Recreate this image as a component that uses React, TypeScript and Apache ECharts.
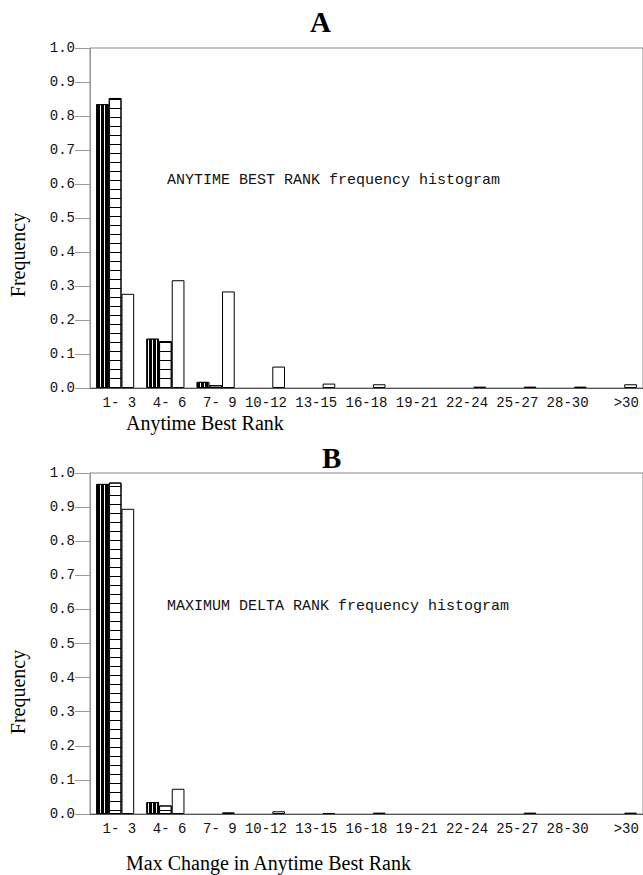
import React, { useEffect, useRef } from "react";
import * as echarts from "echarts";

const categories = [" 1- 3", " 4- 6", " 7- 9", "10-12", "13-15", "16-18", "19-21", "22-24", "25-27", "28-30", "  >30"];
const yTicks = [0, 0.1, 0.2, 0.3, 0.4, 0.5, 0.6, 0.7, 0.8, 0.9, 1.0];

// Panel A: Anytime best rank
const aBlack = [0.835, 0.145, 0.018, 0, 0, 0, 0, 0, 0, 0, 0];
const aLined = [0.853, 0.138, 0.008, 0, 0, 0, 0, 0, 0, 0, 0];
const aWhite = [0.277, 0.317, 0.284, 0.063, 0.013, 0.011, 0, 0.004, 0.004, 0.004, 0.011];

// Panel B: Max change in anytime best rank
const bBlack = [0.968, 0.035, 0, 0, 0, 0, 0, 0, 0, 0, 0];
const bLined = [0.972, 0.025, 0, 0, 0, 0, 0, 0, 0, 0, 0];
const bWhite = [0.895, 0.074, 0.005, 0.008, 0.003, 0.004, 0, 0, 0.004, 0, 0.004];

const MONO = "'Liberation Mono', 'Courier New', monospace";
const SERIF = "'Liberation Serif', 'Times New Roman', serif";

export default function App() {
  const ref = useRef<HTMLDivElement>(null);
  useEffect(() => {
    if (!ref.current) return;
    const chart = echarts.init(ref.current, undefined, { renderer: "svg" });
    const grids = [
      { left: 90, top: 48, width: 556, height: 340 },
      { left: 90, top: 473, width: 556, height: 341 },
    ];
    const xAxis = grids.map((_, i) => ({
      type: "category",
      gridIndex: i,
      data: categories,
      axisLine: { lineStyle: { color: "#555", width: 1 } },
      axisTick: { show: false },
      axisLabel: { interval: 0, margin: 8, fontFamily: MONO, fontSize: 14, color: "#111" },
    }));
    const yAxis = grids.map((_, i) => ({
      type: "value",
      gridIndex: i,
      min: yTicks[0],
      max: yTicks[yTicks.length - 1],
      interval: 0.1,
      splitLine: { show: false },
      axisLine: { show: true, lineStyle: { color: "#999", width: 1 } },
      axisTick: { show: true, length: 15, lineStyle: { color: "#999" } },
      axisLabel: {
        margin: 15,
        fontFamily: MONO,
        fontSize: 14,
        color: "#111",
        verticalAlign: "middle",
        padding: [0, 0, 11, 0],
        formatter: (v: number) => v.toFixed(1),
      },
    }));
    const blackStyle = {
      color: "#000",
      borderColor: "#000",
      borderWidth: 1,
      decal: {
        symbol: "rect",
        color: "#fff",
        dashArrayX: [0.8, 2.4],
        dashArrayY: [10, 0],
        symbolSize: 1,
        symbolKeepAspect: false,
      },
    };
    const linedStyle = {
      color: "#fff",
      borderColor: "#000",
      borderWidth: 1,
      decal: {
        symbol: "rect",
        color: "#000",
        dashArrayX: [10, 0],
        dashArrayY: [1, 7.5],
        symbolSize: 1,
        symbolKeepAspect: false,
      },
    };
    const whiteStyle = { color: "#fff", borderColor: "#000", borderWidth: 1 };
    const mk = (name: string, data: number[], idx: number, style: any) => ({
      name,
      type: "bar",
      xAxisIndex: idx,
      yAxisIndex: idx,
      data: data.map((v) => (v === 0 ? "-" : v)),
      barWidth: 12.7,
      barGap: "0%",
      itemStyle: style,
    });
    chart.setOption({
      animation: false,
      backgroundColor: "#fff",
      title: [
        { text: "A", left: 305, top: 2, textStyle: { fontFamily: SERIF, fontSize: 29, fontWeight: "bold", color: "#000" } },
        { text: "B", left: 317, top: 438, textStyle: { fontFamily: SERIF, fontSize: 29, fontWeight: "bold", color: "#000" } },
      ],
      grid: grids.map((g) => ({ ...g, show: true, borderColor: "#888", borderWidth: 1, backgroundColor: "transparent" })),
      xAxis,
      yAxis,
      series: [
        mk("A black", aBlack, 0, blackStyle),
        mk("A lined", aLined, 0, linedStyle),
        mk("A white", aWhite, 0, whiteStyle),
        mk("B black", bBlack, 1, blackStyle),
        mk("B lined", bLined, 1, linedStyle),
        mk("B white", bWhite, 1, whiteStyle),
      ],
      graphic: [
        { type: "text", x: 167, y: 180, style: { text: "ANYTIME BEST RANK frequency histogram", font: `15px ${MONO}`, fill: "#111", verticalAlign: "middle" } },
        { type: "text", x: 167, y: 606, style: { text: "MAXIMUM DELTA RANK frequency histogram", font: `15px ${MONO}`, fill: "#111", verticalAlign: "middle" } },
        { type: "text", x: 18, y: 255, rotation: Math.PI / 2, style: { text: "Frequency", font: `20px ${SERIF}`, fill: "#000", align: "center", verticalAlign: "middle" } },
        { type: "text", x: 18, y: 692, rotation: Math.PI / 2, style: { text: "Frequency", font: `20px ${SERIF}`, fill: "#000", align: "center", verticalAlign: "middle" } },
        { type: "text", x: 126, y: 423, style: { text: "Anytime Best Rank", font: `20px ${SERIF}`, fill: "#000", verticalAlign: "middle" } },
        { type: "text", x: 126, y: 863, style: { text: "Max Change in Anytime Best Rank", font: `20px ${SERIF}`, fill: "#000", verticalAlign: "middle" } },
      ],
    });
    return () => chart.dispose();
  }, []);
  return <div ref={ref} style={{ position: "absolute", left: 0, top: 0, width: 643, height: 875 }} />;
}
